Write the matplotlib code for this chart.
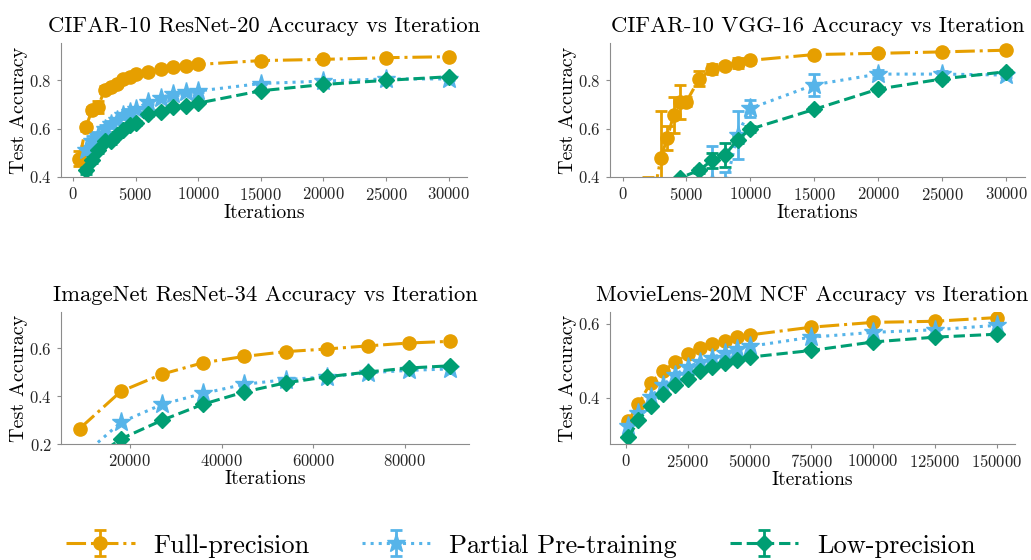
import matplotlib
matplotlib.use("Agg")
import matplotlib.pyplot as plt
from matplotlib.ticker import MultipleLocator

plt.rcParams['font.family'] = ['cmr10', 'DejaVu Serif']
plt.rcParams['mathtext.fontset'] = 'cm'
plt.rcParams['axes.formatter.use_mathtext'] = True

ORANGE = '#E69F00'
BLUE = '#56B4E9'
GREEN = '#009E73'

labels = ['Full-precision', 'Partial Pre-training', 'Low-precision']

# CIFAR-10 ResNet-20
r20_x_full = [500, 1000, 1500, 2000, 2500, 3000, 3500, 4000, 4500, 5000,
              6000, 7000, 8000, 9000, 10000, 15000, 20000, 25000, 30000]
r20_full = [0.476, 0.605, 0.677, 0.69, 0.762, 0.774, 0.785, 0.806, 0.813, 0.827,
            0.834, 0.847, 0.857, 0.860, 0.866, 0.882, 0.887, 0.894, 0.898]
r20_full_err = [0.03, 0.015, 0.012, 0.025, 0.015, 0.01, 0.01, 0.01, 0.008, 0.008,
                0.005, 0.005, 0.005, 0.004, 0.004, 0.003, 0.003, 0.003, 0.003]
r20_x = r20_x_full[1:]
r20_partial = [0.51, 0.55, 0.57, 0.60, 0.62, 0.635, 0.655, 0.67, 0.68,
               0.712, 0.728, 0.745, 0.75, 0.756, 0.787, 0.797, 0.806, 0.806]
r20_partial_err = [0.02, 0.02, 0.015, 0.015, 0.01, 0.01, 0.01, 0.01, 0.01,
                   0.008, 0.006, 0.006, 0.005, 0.005, 0.004, 0.004, 0.003, 0.003]
r20_low = [0.428, 0.47, 0.51, 0.55, 0.548, 0.575, 0.595, 0.617, 0.625,
           0.66, 0.67, 0.69, 0.695, 0.706, 0.757, 0.783, 0.80, 0.815]
r20_low_err = [0.015, 0.012, 0.012, 0.01, 0.012, 0.01, 0.008, 0.008, 0.008,
               0.006, 0.006, 0.005, 0.005, 0.005, 0.004, 0.003, 0.003, 0.003]

# CIFAR-10 VGG-16
vgg_x_full = [2000, 3000, 3500, 4000, 4500, 5000, 6000, 7000, 8000, 9000,
              10000, 15000, 20000, 25000, 30000]
vgg_full = [0.20, 0.479, 0.562, 0.657, 0.711, 0.712, 0.807, 0.846, 0.861, 0.872,
            0.883, 0.907, 0.912, 0.918, 0.925]
vgg_full_err = [0.20, 0.195, 0.05, 0.075, 0.07, 0.02, 0.03, 0.02, 0.01, 0.02,
                0.01, 0.006, 0.005, 0.004, 0.004]
vgg_x_partial = [7000, 8000, 9000, 10000, 15000, 20000, 25000, 30000]
vgg_partial = [0.38, 0.35, 0.575, 0.684, 0.782, 0.826, 0.826, 0.822]
vgg_partial_err = [0.15, 0.07, 0.10, 0.035, 0.045, 0.015, 0.012, 0.01]
vgg_x_low = [3000, 4500, 6000, 7000, 8000, 9000, 10000, 15000, 20000, 25000, 30000]
vgg_low = [0.33, 0.396, 0.428, 0.469, 0.49, 0.555, 0.598, 0.68, 0.764, 0.806, 0.836]
vgg_low_err = [0.01, 0.005, 0.01, 0.03, 0.05, 0.015, 0.012, 0.008, 0.006, 0.005, 0.005]

# ImageNet ResNet-34
imn_x = [9000, 18000, 27000, 36000, 45000, 54000, 63000, 72000, 81000, 90000]
imn_full = [0.264, 0.419, 0.491, 0.539, 0.565, 0.585, 0.596, 0.609, 0.621, 0.628]
imn_partial = [0.14, 0.29, 0.365, 0.411, 0.449, 0.468, 0.48, 0.497, 0.507, 0.513]
imn_low = [0.10, 0.221, 0.299, 0.366, 0.417, 0.455, 0.48, 0.50, 0.517, 0.526]

# MovieLens-20M NCF
ml_x = [1000, 5000, 10000, 15000, 20000, 25000, 30000, 35000, 40000, 45000,
        50000, 75000, 100000, 125000, 150000]
ml_full = [0.338, 0.382, 0.441, 0.473, 0.496, 0.519, 0.534, 0.546, 0.554, 0.564,
           0.570, 0.591, 0.604, 0.607, 0.617]
ml_partial = [0.325, 0.358, 0.403, 0.434, 0.463, 0.483, 0.497, 0.509, 0.522, 0.531,
              0.539, 0.564, 0.577, 0.584, 0.596]
ml_low = [0.293, 0.34, 0.378, 0.41, 0.434, 0.452, 0.473, 0.482, 0.495, 0.503,
          0.51, 0.528, 0.551, 0.564, 0.572]

styles = [
    dict(color=ORANGE, linestyle='-.', marker='o', markersize=9.5),
    dict(color=BLUE, linestyle=':', marker='*', markersize=14),
    dict(color=GREEN, linestyle='--', marker='D', markersize=8.5),
]


def draw(ax, series, title, xlim, ylim, xstep):
    handles = []
    for (x, y, e), st, lab in zip(series, styles, labels):
        h = ax.errorbar(x, y, yerr=e, linewidth=2.2, capsize=4, capthick=2,
                        elinewidth=2, label=lab, **st)
        handles.append(h)
    ax.set_title(title, fontsize=16.3, pad=8)
    ax.set_xlabel('Iterations', fontsize=14, labelpad=1)
    ax.set_ylabel('Test Accuracy', fontsize=14.5, labelpad=1)
    ax.set_xlim(*xlim)
    ax.set_ylim(*ylim)
    ax.xaxis.set_major_locator(MultipleLocator(xstep))
    ax.yaxis.set_major_locator(MultipleLocator(0.2))
    for s in ['top', 'right']:
        ax.spines[s].set_visible(False)
    for s in ['left', 'bottom']:
        ax.spines[s].set_color('#8c8c8c')
    ax.tick_params(labelsize=12, length=3, color='#8c8c8c', labelcolor='#262626')
    return handles


fig = plt.figure(figsize=(10.31, 5.6), dpi=100)
ax1 = fig.add_axes([0.0592, 0.684, 0.3938, 0.2393])
ax2 = fig.add_axes([0.5917, 0.684, 0.4025, 0.2393])
ax3 = fig.add_axes([0.0592, 0.2071, 0.3957, 0.2357])
ax4 = fig.add_axes([0.5917, 0.2071, 0.3928, 0.2357])

handles = draw(ax1, [(r20_x_full, r20_full, r20_full_err),
                     (r20_x, r20_partial, r20_partial_err),
                     (r20_x, r20_low, r20_low_err)],
               'CIFAR-10 ResNet-20 Accuracy vs Iteration',
               (-975, 31475), (0.4, 0.955), 5000)
draw(ax2, [(vgg_x_full, vgg_full, vgg_full_err),
           (vgg_x_partial, vgg_partial, vgg_partial_err),
           (vgg_x_low, vgg_low, vgg_low_err)],
     'CIFAR-10 VGG-16 Accuracy vs Iteration',
     (-975, 31475), (0.4, 0.955), 5000)
draw(ax3, [(imn_x, imn_full, None), (imn_x, imn_partial, None), (imn_x, imn_low, None)],
     'ImageNet ResNet-34 Accuracy vs Iteration',
     (4950, 94050), (0.2, 0.75), 20000)
draw(ax4, [(ml_x, ml_full, None), (ml_x, ml_partial, None), (ml_x, ml_low, None)],
     'MovieLens-20M NCF Accuracy vs Iteration',
     (-6450, 157450), (0.275, 0.632), 25000)

fig.legend(handles, labels, loc='lower center', bbox_to_anchor=(0.505, -0.038),
           ncol=3, frameon=False, fontsize=19, handlelength=2.6,
           handletextpad=0.7, columnspacing=2.0)

fig.savefig('out.png', dpi=100)
